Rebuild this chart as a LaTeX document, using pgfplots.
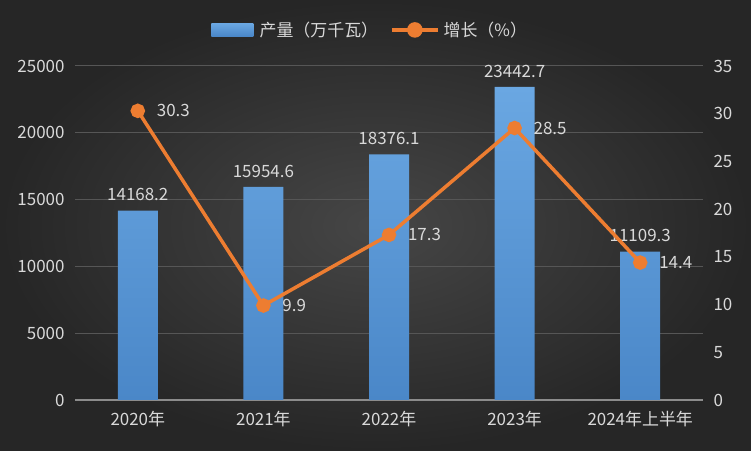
\documentclass[border=0pt]{standalone}
\usepackage{pgfplots}
\pgfplotsset{compat=1.18}
\usepackage{fontspec}
\setmainfont{Noto Sans CJK SC}
\definecolor{bgin}{HTML}{464646}
\definecolor{bgout}{HTML}{262626}
\definecolor{gridc}{HTML}{565656}
\definecolor{axisc}{HTML}{8C8C8C}
\definecolor{txt}{HTML}{D9D9D9}
\definecolor{bartop}{HTML}{6AA7E2}
\definecolor{barbot}{HTML}{4A87C8}
\definecolor{orng}{HTML}{ED7D31}
\begin{document}
\begin{tikzpicture}[x=1bp,y=1bp]
\shade[inner color=bgin, outer color=bgout] (0,0) rectangle (751,451);
\begin{axis}[
  at={(75bp,51bp)}, anchor=south west, scale only axis,
  width=628bp, height=334bp,
  xmin=-0.5, xmax=4.5, ymin=0, ymax=25000,
  ytick={0,5000,...,25000},
  xtick={0,1,2,3,4},
  xticklabels={2020年,2021年,2022年,2023年,2024年上半年},
  axis x line*=bottom, axis y line*=left,
  x axis line style={draw=axisc, line width=1.5bp, -},
  y axis line style={draw=none},
  ymajorgrids, grid style={draw=gridc, line width=1bp},
  major tick length=0pt,
  tick label style={font=\fontsize{17}{20}\selectfont, text=txt},
  yticklabel style={xshift=-7bp},
  xticklabel style={yshift=-8bp},
  /pgf/number format/assume math mode=true,
  /pgf/number format/1000 sep={},
  scaled y ticks=false,
  clip=false,
]
\addplot[ybar, bar width=40bp, draw=none, top color=bartop, bottom color=barbot,
  point meta=explicit symbolic,
  nodes near coords, every node near coord/.append style={font=\fontsize{17}{20}\selectfont, text=txt, anchor=south, yshift=6bp}]
  coordinates {(0,14168.2)[14168.2] (1,15954.6)[15954.6] (2,18376.1)[18376.1] (3,23442.7)[23442.7] (4,11109.3)[11109.3]};
\end{axis}
\begin{axis}[
  at={(75bp,51bp)}, anchor=south west, scale only axis,
  width=628bp, height=334bp,
  xmin=-0.5, xmax=4.5, ymin=0, ymax=35,
  ytick={0,5,...,35},
  hide x axis,
  axis y line*=right,
  y axis line style={draw=none},
  major tick length=0pt,
  tick label style={font=\fontsize{17}{20}\selectfont, text=txt},
  yticklabel style={xshift=7bp},
  /pgf/number format/assume math mode=true,
  clip=false,
  legend style={at={(0.47,1.108)}, anchor=center, draw=none, fill=none,
    font=\fontsize{17}{20}\selectfont, text=txt, legend columns=2,
    /tikz/every even column/.append style={column sep=10bp}},
  legend cell align=left,
]
\addlegendimage{legend image code/.code={\path[draw=none, top color=bartop, bottom color=barbot] (0bp,-6.5bp) rectangle (42bp,6.5bp); \path (46bp,0);}}
\addlegendentry{产量（万千瓦）}
\addplot[orng, line width=3.5bp, mark=*, mark size=5.5bp, mark options={fill=orng, draw=orng},
  point meta=explicit symbolic,
  nodes near coords, every node near coord/.append style={font=\fontsize{17}{20}\selectfont, text=txt, anchor=west, xshift=14bp, yshift=0bp},
  legend image code/.code={\draw[orng, line width=3.5bp] (0bp,0)--(46bp,0); \fill[orng] (23bp,0) circle (6bp); \path (48bp,0);}]
  coordinates {(0,30.3)[30.3] (1,9.9)[9.9] (2,17.3)[17.3] (3,28.5)[28.5] (4,14.4)[14.4]};
\addlegendentry{增长（\%）}
\end{axis}
\end{tikzpicture}
\end{document}
